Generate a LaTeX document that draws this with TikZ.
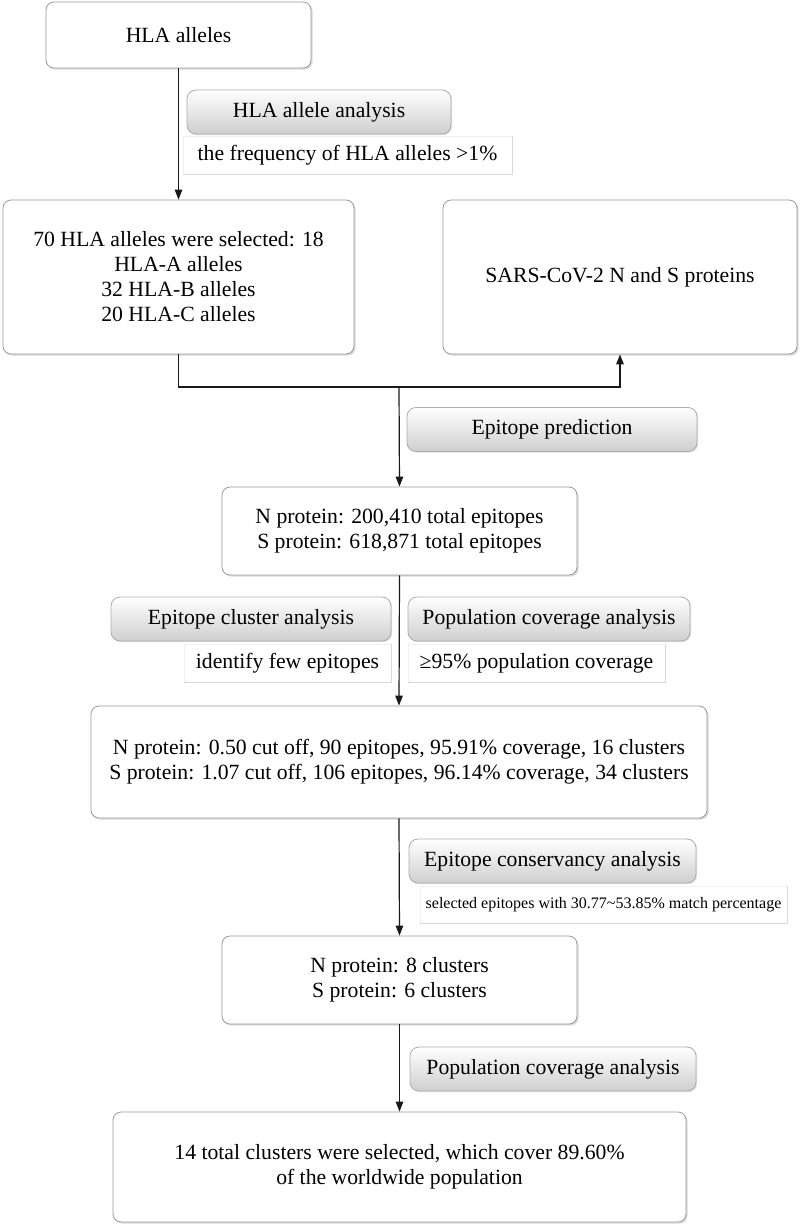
\documentclass[tikz,border=0pt]{standalone}
\usepackage{fontspec}
\setmainfont{Liberation Serif}
\usetikzlibrary{arrows.meta,shadows}

\newcommand{\bodysize}{\fontsize{21.7}{25}\selectfont}
\newcommand{\smallsize}{\fontsize{16}{19}\selectfont}

\begin{document}
\begin{tikzpicture}[x=1pt,y=-1pt,
    stagebox/.style={draw=gray!80, line width=0.8pt, rounded corners=8pt, fill=white,
      align=center, inner sep=0pt, font=\bodysize,
      drop shadow={shadow xshift=1.6pt, shadow yshift=-1.6pt, opacity=0.3, fill=gray}},
    methodtag/.style={draw=gray!65, line width=0.8pt, rounded corners=9pt,
      top color=white, bottom color=gray!38, minimum height=44pt, inner sep=0pt,
      font=\bodysize,
      drop shadow={shadow xshift=1.2pt, shadow yshift=-1.2pt, opacity=0.25, fill=gray}},
    notebox/.style={draw=gray!12, line width=0.6pt, minimum height=38pt, inner sep=0pt,
      font=\bodysize},
    noteedge/.style={draw=gray!30, line width=1.6pt},
    flow/.style={draw=black!90, line width=1.2pt, -{Triangle[length=10pt,width=7.5pt]}}]

  \useasboundingbox (0,0) rectangle (800,1227);

  % main stages
  \node[stagebox, minimum width=265pt, minimum height=66pt] (hla) at (178.5,35) {HLA alleles};
  \node[stagebox, minimum width=351pt, minimum height=154pt] (alleles) at (178.5,277)
    {70 HLA alleles were selected: 18\\HLA-A alleles\\32 HLA-B alleles\\20 HLA-C alleles};
  \node[stagebox, minimum width=354pt, minimum height=154pt] (proteins) at (620,277)
    {SARS-CoV-2 N and S proteins};
  \node[stagebox, minimum width=355pt, minimum height=88pt] (total) at (399.5,531)
    {N protein: 200,410 total epitopes\\S protein: 618,871 total epitopes};
  \node[stagebox, minimum width=616pt, minimum height=112pt] (cut) at (399,762)
    {N protein: 0.50 cut off, 90 epitopes, 95.91\% coverage, 16 clusters\\
     S protein: 1.07 cut off, 106 epitopes, 96.14\% coverage, 34 clusters};
  \node[stagebox, minimum width=355pt, minimum height=88pt] (conserved) at (399.5,980)
    {N protein: 8 clusters\\S protein: 6 clusters};
  \node[stagebox, minimum width=573pt, minimum height=110pt] (final) at (399.5,1167)
    {14 total clusters were selected, which cover 89.60\%\\of the worldwide population};

  % method tags
  \node[methodtag, minimum width=264pt] (tagHla) at (319,112) {HLA allele analysis};
  \node[methodtag, minimum width=290pt] (tagPred) at (552,429.5) {Epitope prediction};
  \node[methodtag, minimum width=280pt] (tagCluster) at (251,619) {Epitope cluster analysis};
  \node[methodtag, minimum width=282pt] (tagPop) at (549,619) {Population coverage analysis};
  \node[methodtag, minimum width=287pt] (tagCons) at (552.5,861) {Epitope conservancy analysis};
  \node[methodtag, minimum width=286pt] (tagFinal) at (553,1069) {Population coverage analysis};

  % notes under the tags
  \node[notebox, minimum width=329pt] (noteHla) at (347.5,155)
    {the frequency of HLA alleles >1\%};
  \node[notebox, minimum width=207pt] (noteCluster) at (287.5,663)
    {identify few epitopes};
  \node[notebox, minimum width=257pt] (notePop) at (536.5,663)
    {≥95\% population coverage};
  \node[notebox, minimum width=367pt, minimum height=37pt, font=\smallsize] (noteCons) at (603.5,904.5)
    {selected epitopes with 30.77\textasciitilde53.85\% match percentage};

  \foreach \n in {noteHla,noteCluster,notePop,noteCons}
    \draw[noteedge] (\n.north east) -- (\n.south east) -- (\n.south west);

  % connectors
  \coordinate (fork) at (399,387);
  \draw[flow] (hla.south) -- (alleles.north);
  \draw[flow] (alleles.south) -- (alleles.south |- fork) -- (proteins.south |- fork)
    -- (proteins.south);
  \draw[flow] (fork) -- (total.north);
  \draw[flow] (total.south) -- (cut.north);
  \draw[flow] (cut.south) -- (conserved.north);
  \draw[flow] (conserved.south) -- (final.north);

\end{tikzpicture}
\end{document}
